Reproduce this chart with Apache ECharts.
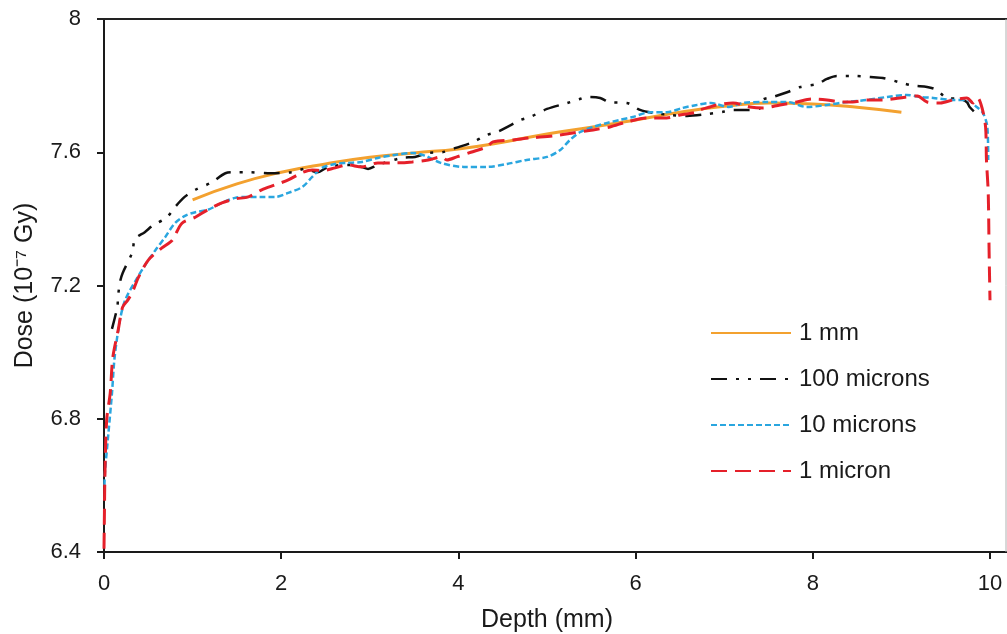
<!DOCTYPE html>
<html>
<head>
<meta charset="utf-8">
<script src="https://cdn.jsdelivr.net/npm/echarts@6/dist/echarts.min.js"></script>
<style>
html,body{margin:0;padding:0;background:#fff;}
#c{width:1007px;height:634px;}
</style>
</head>
<body>
<div id="c"></div>
<script>
const seriesNames = ['1 mm', '100 microns', '10 microns', '1 micron'];
const xTicks = [0, 2, 4, 6, 8, 10];
const yTicks = [6.4, 6.8, 7.2, 7.6, 8];

// [depth (mm), dose (1e-7 Gy)]
const data1mm = [
  [1.0, 7.457], [1.5, 7.505], [2.0, 7.54], [2.5, 7.565], [3.0, 7.585], [3.5, 7.598],
  [4.0, 7.61], [4.5, 7.63], [5.0, 7.655], [5.5, 7.675], [6.0, 7.697], [6.5, 7.72],
  [7.0, 7.738], [7.5, 7.748], [8.0, 7.745], [8.5, 7.735], [9.0, 7.72]
];
const data100um = [
  [0.09, 7.07], [0.15, 7.135], [0.16, 7.17], [0.18, 7.21], [0.21, 7.237], [0.32, 7.30],
  [0.35, 7.34], [0.46, 7.36], [0.55, 7.38], [0.71, 7.405], [0.80, 7.435], [0.91, 7.466],
  [1.03, 7.487], [1.22, 7.51], [1.37, 7.537], [1.48, 7.54], [1.63, 7.54], [1.85, 7.537],
  [2.12, 7.54], [2.27, 7.55], [2.41, 7.54], [2.53, 7.556], [2.75, 7.562], [2.91, 7.556],
  [2.98, 7.55], [3.09, 7.562], [3.36, 7.583], [3.51, 7.586], [3.66, 7.598], [3.82, 7.60],
  [3.97, 7.613], [4.16, 7.63], [4.32, 7.652], [4.43, 7.66], [4.58, 7.68], [4.70, 7.697],
  [4.81, 7.706], [5.0, 7.73], [5.23, 7.748], [5.37, 7.76], [5.45, 7.766], [5.60, 7.763],
  [5.71, 7.75], [5.90, 7.748], [6.05, 7.727], [6.20, 7.718], [6.39, 7.712], [6.58, 7.709],
  [6.76, 7.713], [7.0, 7.722], [7.10, 7.727], [7.26, 7.727], [7.41, 7.733], [7.43, 7.757],
  [7.55, 7.766], [7.71, 7.78], [7.86, 7.796], [8.05, 7.805], [8.16, 7.82], [8.27, 7.829],
  [8.45, 7.829], [8.65, 7.826], [8.79, 7.823], [8.98, 7.81], [9.13, 7.80], [9.29, 7.796],
  [9.40, 7.787], [9.51, 7.763], [9.66, 7.76], [9.74, 7.75], [9.77, 7.736], [9.86, 7.712]
];
const data10um = [
  [0.005, 6.6], [0.01, 6.637], [0.05, 6.757], [0.09, 6.877], [0.12, 6.985], [0.18, 7.096],
  [0.24, 7.157], [0.38, 7.225], [0.50, 7.276], [0.58, 7.306], [0.69, 7.345], [0.80, 7.387],
  [0.92, 7.41], [1.03, 7.42], [1.17, 7.427], [1.33, 7.448], [1.48, 7.463], [1.63, 7.466],
  [1.78, 7.466], [1.93, 7.466], [2.08, 7.478], [2.24, 7.496], [2.35, 7.526], [2.46, 7.553],
  [2.61, 7.565], [2.75, 7.568], [2.91, 7.571], [3.09, 7.583], [3.28, 7.592], [3.48, 7.598],
  [3.62, 7.59], [3.80, 7.568], [4.06, 7.556], [4.32, 7.556], [4.55, 7.565], [4.77, 7.577],
  [5.0, 7.586], [5.15, 7.607], [5.26, 7.637], [5.37, 7.66], [5.52, 7.676], [5.68, 7.688],
  [5.82, 7.697], [5.97, 7.706], [6.16, 7.72], [6.35, 7.72], [6.53, 7.733], [6.69, 7.742],
  [6.85, 7.748], [7.05, 7.736], [7.21, 7.748], [7.48, 7.751], [7.71, 7.751], [7.93, 7.736],
  [8.16, 7.742], [8.39, 7.751], [8.61, 7.757], [8.84, 7.766], [9.06, 7.772], [9.21, 7.766],
  [9.36, 7.763], [9.58, 7.757], [9.74, 7.757], [9.85, 7.736], [9.92, 7.718], [9.97, 7.676],
  [9.98, 7.577]
];
const data1um = [
  [0.0, 6.41], [0.005, 6.52], [0.01, 6.625], [0.03, 6.796], [0.07, 6.877], [0.10, 6.985],
  [0.16, 7.066], [0.21, 7.135], [0.27, 7.157], [0.32, 7.18], [0.39, 7.225], [0.50, 7.276],
  [0.65, 7.312], [0.77, 7.336], [0.88, 7.387], [1.03, 7.405], [1.17, 7.427], [1.33, 7.448],
  [1.48, 7.46], [1.63, 7.466], [1.78, 7.487], [1.93, 7.502], [2.08, 7.517], [2.23, 7.538],
  [2.35, 7.547], [2.46, 7.545], [2.61, 7.553], [2.75, 7.562], [2.91, 7.556], [3.09, 7.568],
  [3.28, 7.568], [3.48, 7.571], [3.66, 7.577], [3.81, 7.586], [3.87, 7.577], [3.98, 7.586],
  [4.14, 7.60], [4.32, 7.616], [4.39, 7.631], [4.62, 7.637], [4.81, 7.643], [5.07, 7.649],
  [5.29, 7.658], [5.52, 7.667], [5.71, 7.676], [5.90, 7.691], [6.13, 7.703], [6.35, 7.703],
  [6.50, 7.712], [6.69, 7.72], [6.73, 7.727], [6.84, 7.736], [6.92, 7.742], [7.10, 7.748],
  [7.29, 7.736], [7.44, 7.733], [7.63, 7.742], [7.82, 7.751], [8.00, 7.76], [8.16, 7.757],
  [8.31, 7.751], [8.45, 7.751], [8.61, 7.757], [8.79, 7.757], [8.98, 7.763], [9.18, 7.769],
  [9.29, 7.751], [9.44, 7.748], [9.58, 7.757], [9.74, 7.763], [9.81, 7.748], [9.86, 7.763],
  [9.91, 7.733], [9.95, 7.676], [9.96, 7.577], [9.98, 7.478], [9.99, 7.30], [10.0, 7.156]
];

const FONT = '"Liberation Sans", Arial, sans-serif';
const chart = echarts.init(document.getElementById('c'), null, {renderer: 'canvas'});

chart.setOption({
  animation: false,
  backgroundColor: '#ffffff',
  textStyle: {fontFamily: FONT, color: '#1a1a1a'},
  grid: {left: 104, right: 17, top: 19, bottom: 82, containLabel: false, outerBoundsMode: 'none'},
  legend: {
    orient: 'vertical',
    left: 710,
    top: 321,
    padding: 0,
    itemWidth: 80,
    itemHeight: 14,
    itemGap: 22,
    itemStyle: {opacity: 0},
    textStyle: {fontFamily: FONT, fontSize: 24, color: '#1a1a1a', padding: [0, 0, 0, 3]},
    data: seriesNames
  },
  xAxis: {
    type: 'value',
    min: xTicks[0],
    max: xTicks[xTicks.length - 1],
    interval: xTicks[1] - xTicks[0],
    name: 'Depth (mm)',
    nameLocation: 'middle',
    nameGap: 56,
    nameTextStyle: {fontFamily: FONT, fontSize: 25, color: '#1a1a1a'},
    axisLine: {show: true, lineStyle: {color: '#1a1a1a', width: 2}},
    axisTick: {show: true, length: 7, inside: false, lineStyle: {color: '#1a1a1a', width: 2}},
    axisLabel: {fontFamily: FONT, fontSize: 22, color: '#1a1a1a', margin: 21},
    splitLine: {show: false}
  },
  yAxis: {
    type: 'value',
    min: yTicks[0],
    max: yTicks[yTicks.length - 1],
    interval: 0.4,
    name: 'Dose (10\u207B\u2077 Gy)',
    nameLocation: 'middle',
    nameGap: 66,
    nameRotate: 90,
    nameTextStyle: {fontFamily: FONT, fontSize: 25, color: '#1a1a1a'},
    axisLine: {show: true, lineStyle: {color: '#1a1a1a', width: 2}},
    axisTick: {show: true, length: 7, inside: false, lineStyle: {color: '#1a1a1a', width: 2}},
    axisLabel: {fontFamily: FONT, fontSize: 22, color: '#1a1a1a', margin: 23,
      formatter: v => String(+v.toFixed(1))},
    splitLine: {show: false}
  },
  graphic: [
    {type: 'line', shape: {x1: 97, y1: 19, x2: 1007, y2: 19}, style: {stroke: '#222', lineWidth: 2}, z: 10},
    {type: 'line', shape: {x1: 990, y1: 552, x2: 1007, y2: 552}, style: {stroke: '#1a1a1a', lineWidth: 2}, z: 10},
    {type: 'line', shape: {x1: 1006, y1: 19, x2: 1006, y2: 552}, style: {stroke: '#b0b0b0', lineWidth: 1}, z: 10}
  ],
  series: [
    {
      name: seriesNames[0], type: 'line', data: data1mm, symbol: 'none', smooth: true, z: 3,
      lineStyle: {color: '#F3A12F', width: 3, type: 'solid'}, itemStyle: {color: '#F3A12F'}
    },
    {
      name: seriesNames[1], type: 'line', data: data100um, symbol: 'none', smooth: 0.3, z: 4,
      lineStyle: {color: '#111111', width: 2.5, type: [16, 9, 3, 9, 3, 9]}, itemStyle: {color: '#111111'}
    },
    {
      name: seriesNames[2], type: 'line', data: data10um, symbol: 'none', smooth: 0.3, z: 5,
      lineStyle: {color: '#2AA6DF', width: 2.5, type: [6, 3]}, itemStyle: {color: '#2AA6DF'}
    },
    {
      name: seriesNames[3], type: 'line', data: data1um, symbol: 'none', smooth: 0.3, z: 6,
      lineStyle: {color: '#E5202A', width: 3, type: [16, 8]}, itemStyle: {color: '#E5202A'}
    }
  ]
});
</script>
</body>
</html>
